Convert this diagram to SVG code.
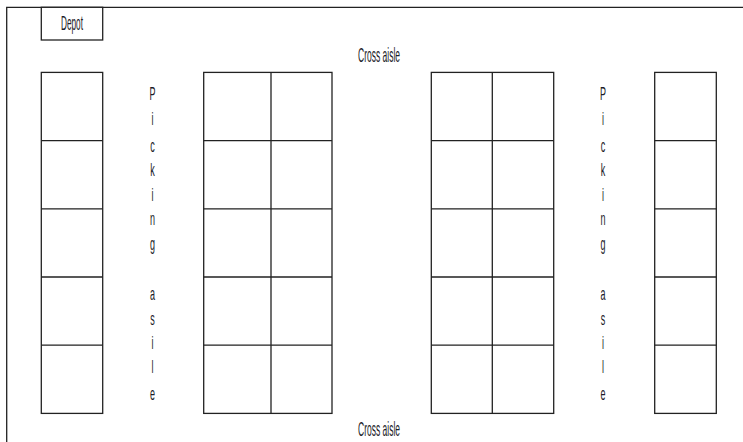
<svg xmlns="http://www.w3.org/2000/svg" width="743" height="442" viewBox="0 0 743 442">
<style>
.ln{stroke:#222;stroke-width:1.3;fill:none}
.bx{stroke:#222;stroke-width:1.3;fill:#fff}
.t{font-family:"Liberation Sans","DejaVu Sans",sans-serif;fill:#1c1c28}
.v{font-family:"Liberation Sans","DejaVu Sans",sans-serif;font-size:18px;fill:#1c1c28;text-anchor:middle}
</style>
<rect width="743" height="442" fill="#fff"/>
<g id="frame">
<path class="ln" d="M6.7,442 V7.3 H743"/>
</g>
<g id="depot">
<rect class="bx" x="41.3" y="7.3" width="61.4" height="32.7"/>
<text class="t" x="61" y="30" font-size="21" textLength="22" lengthAdjust="spacingAndGlyphs">Depot</text>
</g>
<g id="cross-aisle-top"><text class="t" x="358" y="62" font-size="21" textLength="42" lengthAdjust="spacingAndGlyphs">Cross aisle</text></g>
<g id="cross-aisle-bottom"><text class="t" x="358" y="436" font-size="21" textLength="42" lengthAdjust="spacingAndGlyphs">Cross aisle</text></g>
<g id="rack-1">
<rect class="bx" x="41.3" y="72.4" width="61.4" height="341"/>
<path class="ln" d="M41.3,140.6 H102.7 M41.3,208.8 H102.7 M41.3,277 H102.7 M41.3,345.2 H102.7"/>
</g>
<g id="rack-2">
<rect class="bx" x="203.7" y="72.4" width="128.3" height="341"/>
<path class="ln" d="M203.7,140.6 H332 M203.7,208.8 H332 M203.7,277 H332 M203.7,345.2 H332 M271,72.4 V413.4"/>
</g>
<g id="rack-3">
<rect class="bx" x="431.3" y="72.4" width="122.4" height="341"/>
<path class="ln" d="M431.3,140.6 H553.7 M431.3,208.8 H553.7 M431.3,277 H553.7 M431.3,345.2 H553.7 M492.3,72.4 V413.4"/>
</g>
<g id="rack-4">
<rect class="bx" x="654.7" y="72.4" width="61.6" height="341"/>
<path class="ln" d="M654.7,140.6 H716.3 M654.7,208.8 H716.3 M654.7,277 H716.3 M654.7,345.2 H716.3"/>
</g>
<g id="picking-aisle-left" transform="translate(152.5,0) scale(0.5,1)">
<text class="v" x="0" y="100">P</text>
<text class="v" x="0" y="125">i</text>
<text class="v" x="0" y="152">c</text>
<text class="v" x="0" y="176">k</text>
<text class="v" x="0" y="201">i</text>
<text class="v" x="0" y="225">n</text>
<text class="v" x="0" y="250">g</text>
<text class="v" x="0" y="300">a</text>
<text class="v" x="0" y="325">s</text>
<text class="v" x="0" y="349">i</text>
<text class="v" x="0" y="373">l</text>
<text class="v" x="0" y="400">e</text>
</g>
<g id="picking-aisle-right" transform="translate(603,0) scale(0.5,1)">
<text class="v" x="0" y="100">P</text>
<text class="v" x="0" y="125">i</text>
<text class="v" x="0" y="152">c</text>
<text class="v" x="0" y="176">k</text>
<text class="v" x="0" y="201">i</text>
<text class="v" x="0" y="225">n</text>
<text class="v" x="0" y="250">g</text>
<text class="v" x="0" y="300">a</text>
<text class="v" x="0" y="325">s</text>
<text class="v" x="0" y="349">i</text>
<text class="v" x="0" y="373">l</text>
<text class="v" x="0" y="400">e</text>
</g>
</svg>
